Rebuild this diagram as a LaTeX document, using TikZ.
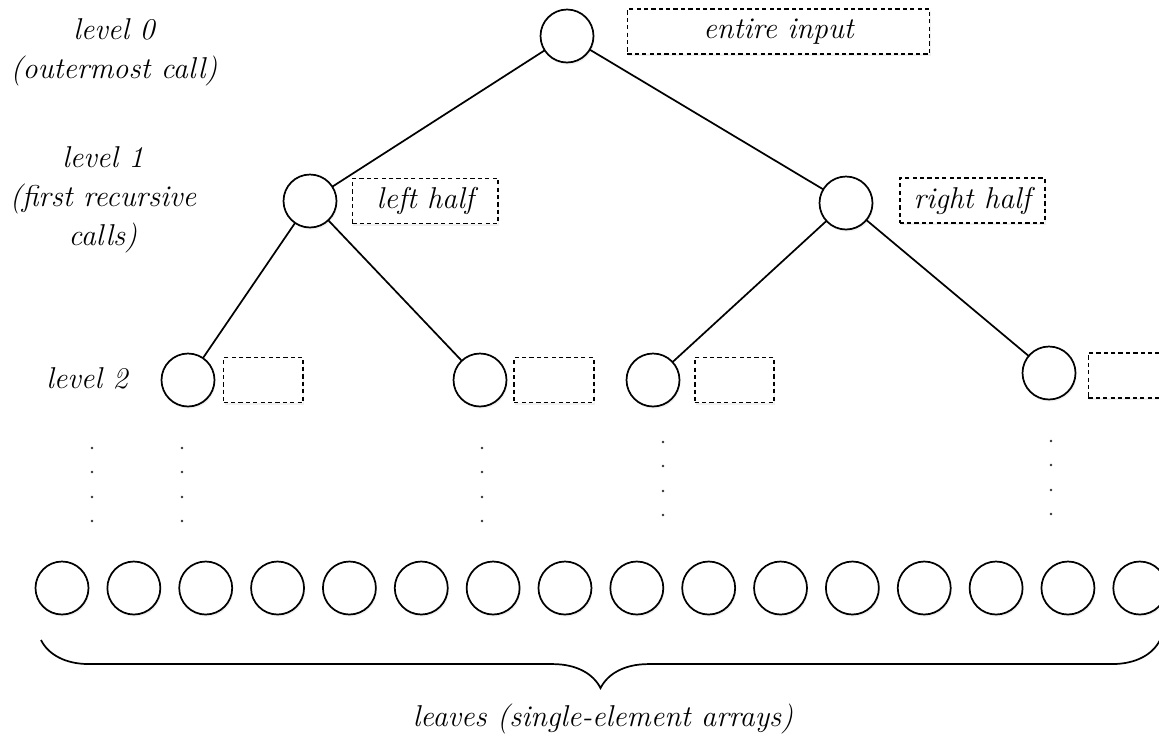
\documentclass[tikz,border=0pt]{standalone}
\usepackage{amsmath}
\usepackage{tikz}
\usetikzlibrary{positioning, shadows, decorations.pathreplacing}

\begin{document}
\begin{tikzpicture}
[
    x = 0.0133cm, y = -0.0133cm,
    line width = 0.65pt,
    every node/.style = {font = \itshape\fontsize{11.4}{13.6}\selectfont, align = center}
  ]

  \tikzset{CallStyle/.style = {shape          = circle,
                                 draw,
                                 fill           = white,
                                 inner sep      = 0pt,
                                 outer sep      = 0pt,
                                 minimum size   = 0.705cm,
                                 drop shadow    = {opacity = 0.12, shadow xshift = 0.4pt, shadow yshift = -0.8pt}},
           PartStyle/.style = {shape          = rectangle,
                                 draw,
                                 fill           = white,
                                 dash pattern   = on 1.6pt off 1.2pt,
                                 inner sep      = 0pt,
                                 minimum height = 0.6cm,
                                 drop shadow    = {opacity = 0.12, shadow xshift = 0.4pt, shadow yshift = -0.8pt}}}

  \useasboundingbox (0,0) rectangle (1159,739);

  % level labels
  \node (lv0) at (114,52) {level 0\\[1.2pt](outermost call)};
  \node (lv1) at (103,200) {level 1\\[1.2pt](first recursive\\[1.2pt]calls)};
  \node (lv2) at (87,378) {level 2};

  % recursion tree
  \node[CallStyle] (01) at (567,36) {};
  \node[CallStyle] (11) at (310,201) {};
  \node[CallStyle] (12) at (846,203) {};
  \node[CallStyle] (21) at (188,380) {};
  \node[CallStyle] (22) at (480,380) {};
  \node[CallStyle] (23) at (653,380) {};
  \node[CallStyle] (24) at (1049,373) {};

  \node[PartStyle, minimum width = 4.02cm, right = 0.44cm of 01, yshift = 0.06cm] (p01) {entire input};
  \node[PartStyle, minimum width = 1.94cm, right = 0.2cm of 11] (p11) {left half};
  \node[PartStyle, minimum width = 1.93cm, right = 0.35cm of 12, yshift = 0.03cm] (p12) {right half};
  \node[PartStyle, minimum width = 1.06cm, right = 0.11cm of 21] (p21) {};
  \node[PartStyle, minimum width = 1.06cm, right = 0.09cm of 22] (p22) {};
  \node[PartStyle, minimum width = 1.06cm, right = 0.19cm of 23] (p23) {};
  \node[PartStyle, minimum width = 1.06cm, right = 0.16cm of 24, yshift = -0.03cm] (p24) {};

  \draw(01) to (11);
  \draw(01) to (12);
  \draw(11) to (21);
  \draw(11) to (22);
  \draw(12) to (23);
  \draw(12) to (24);

  % dots
  \foreach \x in {92, 182, 482}
    \foreach \y in {448, 472, 497, 521}
      \fill[black!80] (\x,\y) circle (0.5pt);
  \foreach \x/\d in {663/0, 1051/-1}
    \foreach \y in {442, 466, 491, 515}
      \fill[black!80] (\x,\y+\d) circle (0.5pt);

  % leaves
  \begin{scope}[node distance = 0.251cm]
  \node[CallStyle] (l1) at (62,588) {};
  \node[CallStyle, right = of l1] (l2) {};
  \node[CallStyle, right = of l2] (l3) {};
  \node[CallStyle, right = of l3] (l4) {};
  \node[CallStyle, right = of l4] (l5) {};
  \node[CallStyle, right = of l5] (l6) {};
  \node[CallStyle, right = of l6] (l7) {};
  \node[CallStyle, right = of l7] (l8) {};
  \node[CallStyle, right = of l8] (l9) {};
  \node[CallStyle, right = of l9] (l10) {};
  \node[CallStyle, right = of l10] (l11) {};
  \node[CallStyle, right = of l11] (l12) {};
  \node[CallStyle, right = of l12] (l13) {};
  \node[CallStyle, right = of l13] (l14) {};
  \node[CallStyle, right = of l14] (l15) {};
  \node[CallStyle, right = of l15] (l16) {};
  \end{scope}

  \coordinate (b1) at (41,640);
  \coordinate (b2) at (1160,640);
  \draw[decorate, decoration = {brace, mirror, amplitude = 0.64cm}] (b1) -- (b2);
  \node (leaves) at (603,719) {leaves (single-element arrays)};

\end{tikzpicture}
\end{document}
